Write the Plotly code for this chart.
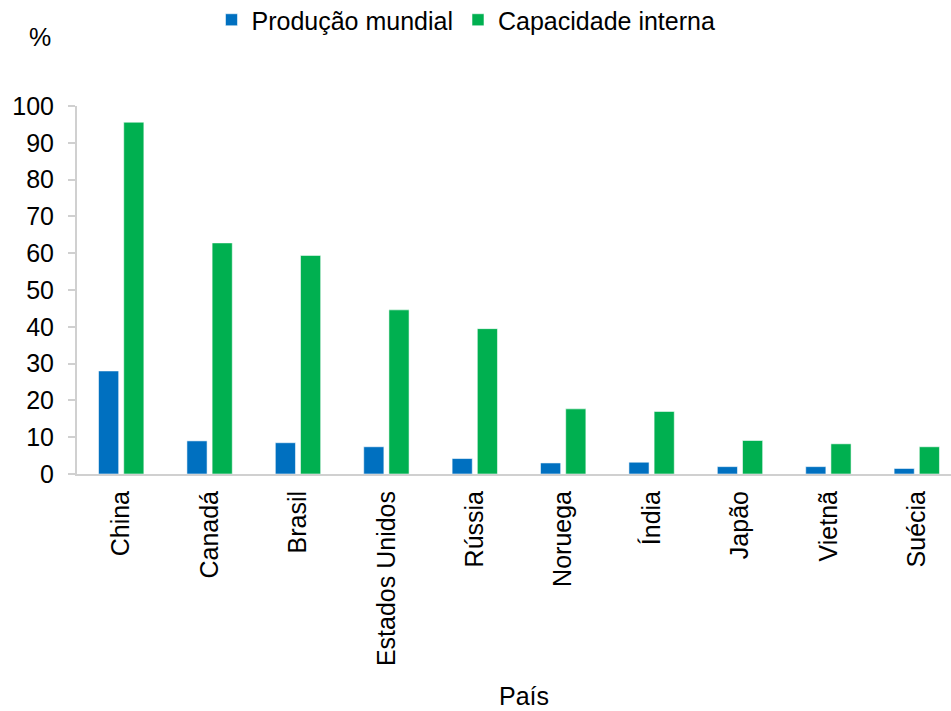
import plotly.graph_objects as go

paises = ["China", "Canadá", "Brasil", "Estados Unidos", "Rússia", "Noruega",
          "Índia", "Japão", "Vietnã", "Suécia"]
producao_mundial = [28.0, 9.0, 8.5, 7.4, 4.2, 3.0, 3.2, 2.0, 2.0, 1.5]
capacidade_interna = [95.6, 62.8, 59.4, 44.6, 39.5, 17.7, 17.0, 9.1, 8.2, 7.4]
y_ticks = [0, 10, 20, 30, 40, 50, 60, 70, 80, 90, 100]

FONT = "Liberation Sans, Arial, sans-serif"
W, H = 951, 711
L, R, T, B = 77, 0, 106, 237

fig = go.Figure()
fig.add_trace(go.Bar(x=paises, y=producao_mundial, name="Produção mundial",
                     marker=dict(color="#0070C0", line=dict(color="rgba(255,255,255,0.55)", width=1))))
fig.add_trace(go.Bar(x=paises, y=capacidade_interna, name="Capacidade interna",
                     marker=dict(color="#00B050", line=dict(color="rgba(255,255,255,0.55)", width=1))))

def px_to_paper_x(px):
    return (px - L) / (W - L - R)

def px_to_paper_y(py):
    return (H - B - py) / (H - T - B)

fig.update_layout(
    width=W, height=H,
    margin=dict(l=L, r=R, t=T, b=B),
    paper_bgcolor="white", plot_bgcolor="white",
    font=dict(family=FONT, size=25, color="#000000"),
    barmode="group", bargap=0.43, bargroupgap=0.2,
    showlegend=True,
    legend=dict(orientation="h", x=0.490, xref="container", xanchor="center",
                y=1 - 20/711, yref="container", yanchor="middle",
                font=dict(size=25), itemwidth=30, tracegroupgap=0),
    xaxis=dict(range=[-0.5, 9.387], showline=True, linecolor="#D0D0D0", linewidth=2,
               ticks="", tickangle=-90, showgrid=False, zeroline=False,
               ticklabelstandoff=5),
    yaxis=dict(range=[0, 100], tickvals=y_ticks, showline=True, linecolor="#D0D0D0",
               linewidth=2, ticks="outside", ticklen=7, tickcolor="#D0D0D0", tickwidth=2,
               showgrid=False, zeroline=False, ticklabelstandoff=9),
    annotations=[
        dict(text="%", x=px_to_paper_x(40), y=px_to_paper_y(37), xref="paper", yref="paper",
             showarrow=False, font=dict(size=25), xanchor="center", yanchor="middle"),
        dict(text="País", x=px_to_paper_x(524), y=px_to_paper_y(696), xref="paper", yref="paper",
             showarrow=False, font=dict(size=25), xanchor="center", yanchor="middle"),
    ],
)

fig.write_html("out.html")
